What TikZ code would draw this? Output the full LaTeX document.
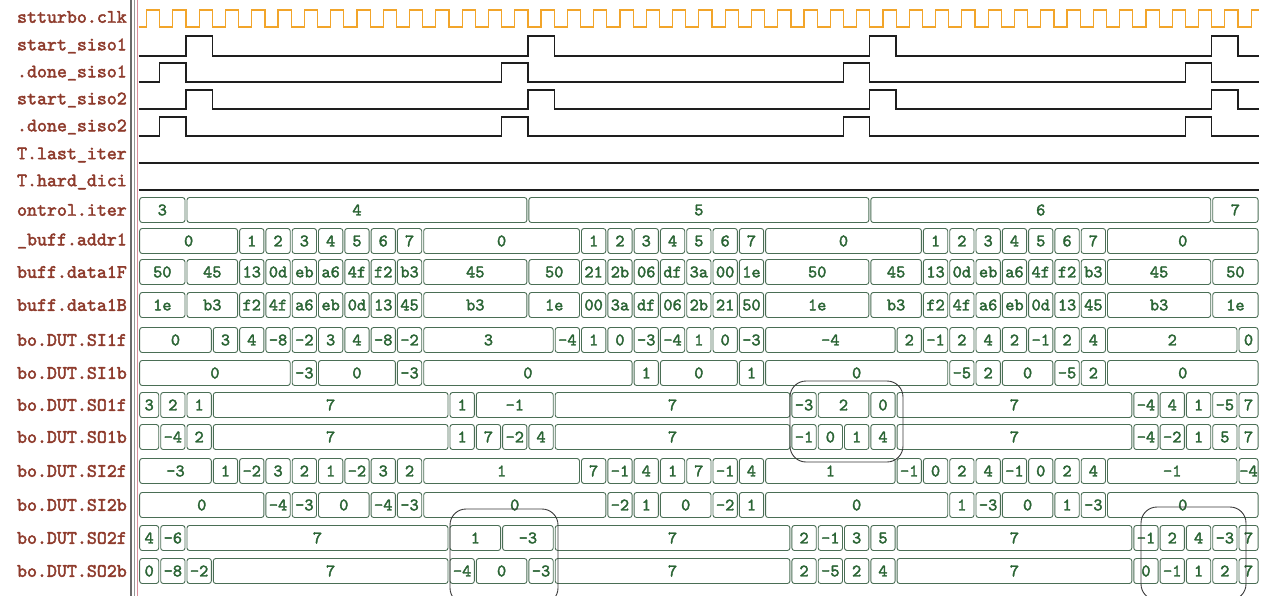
\documentclass[tikz,border=0pt]{standalone}
\usepackage{fontspec}
\newfontfamily\slabmono[FakeBold=2.2]{lmmono10-regular.otf}
\definecolor{lblc}{HTML}{8E3B2C}
\definecolor{valc}{HTML}{2A6434}
\definecolor{busc}{HTML}{4A6E55}
\definecolor{sigc}{HTML}{1E1E1E}
\definecolor{clkc}{HTML}{F2A52A}
\definecolor{annc}{HTML}{3A3A3A}
\definecolor{sepa}{HTML}{6A6A6A}
\definecolor{sepb}{HTML}{D98C9A}
\newcommand\busrow[4]{% #1 name, #2 y, #3 label, #4 cells
  \node[lbl] (#1) at (127,#2) {#3};
  \foreach \a/\b/\v [count=\i] in {#4} {
    \draw[busline] ({133.4+26.3*\a+1},{#2-12.5}) rectangle ({133.4+26.3*\b-1},{#2+12.5});
    \node[busval] (#1v\i) at ({133.4+26.3*(\a+\b)/2},#2) {\v};
  }}
\begin{document}
\begin{tikzpicture}[x=1pt,y=-1pt,
  lbl/.style={anchor=east, text=lblc, font=\slabmono\fontsize{19}{21}\selectfont, inner sep=0pt},
  busval/.style={text=valc, font=\slabmono\fontsize{17.5}{19}\selectfont, inner sep=0pt},
  busline/.style={draw=busc, line width=0.9pt, rounded corners=2.5pt},
  sig/.style={draw=sigc, line width=1.3pt},
  clkw/.style={draw=clkc, line width=1.2pt},
  ann/.style={draw=annc, line width=0.9pt, rounded corners=16pt}]
\useasboundingbox (0,0) rectangle (1268,596);
\fill[white] (0,0) rectangle (1268,596);
\clip (0,0) rectangle (1268,596);

% separator
\draw[sepa, line width=1.3pt] (131,0) -- (131,596);
\draw[sepa!70, line width=0.8pt] (134.5,0) -- (134.5,596);
\draw[sepb, line width=1.2pt] (137.2,0) -- (137.2,596);

% clock
\node[lbl] (nclk) at (127,17) {stturbo.clk};
\draw[clkw] (138.7,27) \foreach \k in {0,...,41} { -- ({133.4+26.3*(\k+0.5)},27) -- ({133.4+26.3*(\k+0.5)},10) -- ({133.4+26.3*(\k+1)},10) -- ({133.4+26.3*(\k+1)},27) } -- ({133.4+26.3*42.5},27) -- ({133.4+26.3*42.5},10) -- (1259,10);

% single-bit signals
\node[lbl] (ns1) at (127,46) {start\_siso1};
\draw[sig] (138.7,56) \foreach \p in {2,15,28,41} { -- ({133.4+26.3*\p},56) -- ({133.4+26.3*\p},36) -- ({133.4+26.3*(\p+1)},36) -- ({133.4+26.3*(\p+1)},56) } -- (1259,56);
\node[lbl] (nd1) at (127,73) {.done\_siso1};
\draw[sig] (138.7,82) \foreach \p in {1,14,27,40} { -- ({133.4+26.3*\p},82) -- ({133.4+26.3*\p},63) -- ({133.4+26.3*(\p+1)},63) -- ({133.4+26.3*(\p+1)},82) } -- (1259,82);
\node[lbl] (ns2) at (127,100) {start\_siso2};
\draw[sig] (138.7,109) \foreach \p in {2,15,28,41} { -- ({133.4+26.3*\p},109) -- ({133.4+26.3*\p},90) -- ({133.4+26.3*(\p+1)},90) -- ({133.4+26.3*(\p+1)},109) } -- (1259,109);
\node[lbl] (nd2) at (127,127) {.done\_siso2};
\draw[sig] (138.7,136) \foreach \p in {1,14,27,40} { -- ({133.4+26.3*\p},136) -- ({133.4+26.3*\p},117) -- ({133.4+26.3*(\p+1)},117) -- ({133.4+26.3*(\p+1)},136) } -- (1259,136);
\node[lbl] (nli) at (127,155) {T.last\_iter};
\draw[sig] (138.7,163) -- (1259,163);
\node[lbl] (nhd) at (127,182) {T.hard\_dici};
\draw[sig] (138.7,190) -- (1259,190);

% buses
\busrow{it}{210}{ontrol.iter}{0.2/2/3, 2/15/4, 15/28/5, 28/41/6, 41/42.8/7}
\busrow{ad}{241}{\_buff.addr1}{0.2/4/0, 4/5/1, 5/6/2, 6/7/3, 7/8/4, 8/9/5, 9/10/6, 10/11/7, 11/17/0, 17/18/1, 18/19/2, 19/20/3, 20/21/4, 21/22/5, 22/23/6, 23/24/7, 24/30/0, 30/31/1, 31/32/2, 32/33/3, 33/34/4, 34/35/5, 35/36/6, 36/37/7, 37/42.8/0}
\busrow{df}{272}{buff.data1F}{0.2/2/50, 2/4/45, 4/5/13, 5/6/0d, 6/7/eb, 7/8/a6, 8/9/4f, 9/10/f2, 10/11/b3, 11/15/45, 15/17/50, 17/18/21, 18/19/2b, 19/20/06, 20/21/df, 21/22/3a, 22/23/00, 23/24/1e, 24/28/50, 28/30/45, 30/31/13, 31/32/0d, 32/33/eb, 33/34/a6, 34/35/4f, 35/36/f2, 36/37/b3, 37/41/45, 41/42.8/50}
\busrow{db}{305}{buff.data1B}{0.2/2/1e, 2/4/b3, 4/5/f2, 5/6/4f, 6/7/a6, 7/8/eb, 8/9/0d, 9/10/13, 10/11/45, 11/15/b3, 15/17/1e, 17/18/00, 18/19/3a, 19/20/df, 20/21/06, 21/22/2b, 22/23/21, 23/24/50, 24/28/1e, 28/30/b3, 30/31/f2, 31/32/4f, 32/33/a6, 33/34/eb, 34/35/0d, 35/36/13, 36/37/45, 37/41/b3, 41/42.8/1e}
\busrow{sia}{340}{bo.DUT.SI1f}{0.2/3/0, 3/4/3, 4/5/4, 5/6/-8, 6/7/-2, 7/8/3, 8/9/4, 9/10/-8, 10/11/-2, 11/16/3, 16/17/-4, 17/18/1, 18/19/0, 19/20/-3, 20/21/-4, 21/22/1, 22/23/0, 23/24/-3, 24/29/-4, 29/30/2, 30/31/-1, 31/32/2, 32/33/4, 33/34/2, 34/35/-1, 35/36/2, 36/37/4, 37/42/2, 42/42.8/0}
\busrow{sib}{373}{bo.DUT.SI1b}{0.2/6/0, 6/7/-3, 7/10/0, 10/11/-3, 11/19/0, 19/20/1, 20/23/0, 23/24/1, 24/31/0, 31/32/-5, 32/33/2, 33/35/0, 35/36/-5, 36/37/2, 37/42.8/0}
\busrow{soa}{405}{bo.DUT.SO1f}{0.2/1/3, 1/2/2, 2/3/1, 3/12/7, 12/13/1, 13/16/-1, 16/25/7, 25/26/-3, 26/28/2, 28/29/0, 29/38/7, 38/39/-4, 39/40/4, 40/41/1, 41/42/-5, 42/42.8/7}
\busrow{sob}{437}{bo.DUT.SO1b}{0.2/1/{}, 1/2/-4, 2/3/2, 3/12/7, 12/13/1, 13/14/7, 14/15/-2, 15/16/4, 16/25/7, 25/26/-1, 26/27/0, 27/28/1, 28/29/4, 29/38/7, 38/39/-4, 39/40/-2, 40/41/1, 41/42/5, 42/42.8/7}
\busrow{sic}{471}{bo.DUT.SI2f}{0.2/3/-3, 3/4/1, 4/5/-2, 5/6/3, 6/7/2, 7/8/1, 8/9/-2, 9/10/3, 10/11/2, 11/17/1, 17/18/7, 18/19/-1, 19/20/4, 20/21/1, 21/22/7, 22/23/-1, 23/24/4, 24/29/1, 29/30/-1, 30/31/0, 31/32/2, 32/33/4, 33/34/-1, 34/35/0, 35/36/2, 36/37/4, 37/42/-1, 42/42.8/-4}
\busrow{sid}{505}{bo.DUT.SI2b}{0.2/5/0, 5/6/-4, 6/7/-3, 7/9/0, 9/10/-4, 10/11/-3, 11/18/0, 18/19/-2, 19/20/1, 20/22/0, 22/23/-2, 23/24/1, 24/31/0, 31/32/1, 32/33/-3, 33/35/0, 35/36/1, 36/37/-3, 37/42.8/0}
\busrow{soc}{538}{bo.DUT.SO2f}{0.2/1/4, 1/2/-6, 2/12/7, 12/14/1, 14/16/-3, 16/25/7, 25/26/2, 26/27/-1, 27/28/3, 28/29/5, 29/38/7, 38/39/-1, 39/40/2, 40/41/4, 41/42/-3, 42/42.8/7}
\busrow{sod}{571}{bo.DUT.SO2b}{0.2/1/0, 1/2/-8, 2/3/-2, 3/12/7, 12/13/-4, 13/15/0, 15/16/-3, 16/25/7, 25/26/2, 26/27/-5, 27/28/2, 28/29/4, 29/38/7, 38/39/0, 39/40/-1, 40/41/1, 41/42/2, 42/42.8/7}

% hand-drawn annotations
\draw[ann] (790,381) rectangle (903,462);
\draw[ann] (450,509) rectangle (558,604);
\draw[ann] (1141,507) rectangle (1246,600);
\end{tikzpicture}
\end{document}
